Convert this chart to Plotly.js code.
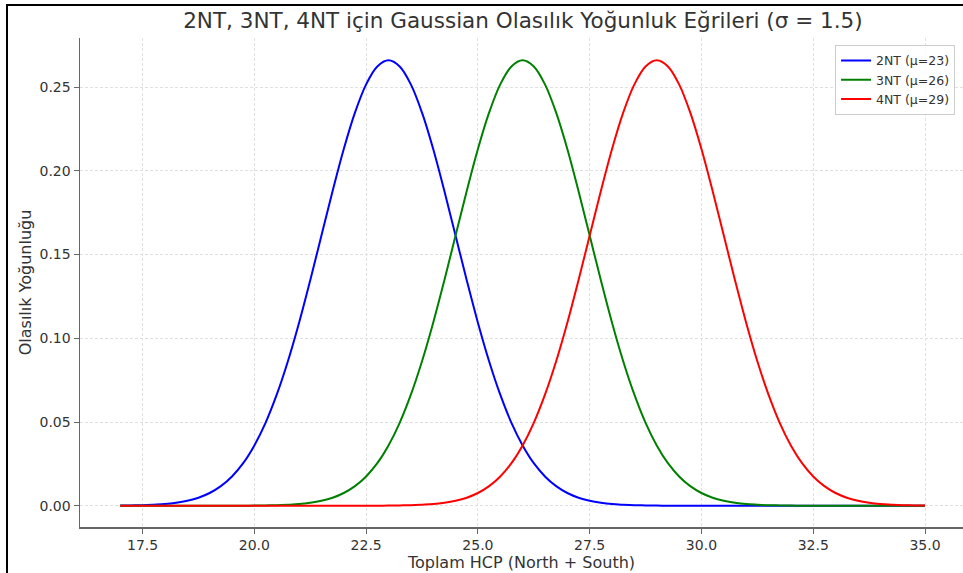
<!DOCTYPE html>
<html>
<head>
<meta charset="utf-8">
<script src="https://cdn.plot.ly/plotly-3.0.1.min.js"></script>
<style>
html,body{margin:0;padding:0;background:#fff;}
#wrap{position:relative;width:963px;height:573px;overflow:hidden;}
#chart{position:absolute;left:0;top:0;width:963px;height:573px;}
#frame{position:absolute;left:6px;top:4px;width:970px;height:580px;border-left:2px solid #000;border-top:2px solid #000;pointer-events:none;}
</style>
</head>
<body>
<div id="wrap"><div id="chart"></div><div id="frame"></div></div>
<script>
const hcp = [17,17.25,17.5,17.75,18,18.25,18.5,18.75,19,19.25,19.5,19.75,20,20.25,20.5,20.75,21,21.25,21.5,21.75,22,22.25,22.5,22.75,23,23.25,23.5,23.75,24,24.25,24.5,24.75,25,25.25,25.5,25.75,26,26.25,26.5,26.75,27,27.25,27.5,27.75,28,28.25,28.5,28.75,29,29.25,29.5,29.75,30,30.25,30.5,30.75,31,31.25,31.5,31.75,32,32.25,32.5,32.75,33,33.25,33.5,33.75,34,34.25,34.5,34.75,35];
const nt2 = [0.0001,0.0002,0.0003,0.0006,0.0010,0.0018,0.0030,0.0048,0.0076,0.0117,0.0175,0.0254,0.0360,0.0495,0.0663,0.0863,0.1093,0.1347,0.1613,0.1879,0.2130,0.2347,0.2516,0.2623,0.2660,0.2623,0.2516,0.2347,0.2130,0.1879,0.1613,0.1347,0.1093,0.0863,0.0663,0.0495,0.0360,0.0254,0.0175,0.0117,0.0076,0.0048,0.0030,0.0018,0.0010,0.0006,0.0003,0.0002,0.0001,0,0,0,0,0,0,0,0,0,0,0,0,0,0,0,0,0,0,0,0,0,0,0,0];
const nt3 = [0,0,0,0,0,0,0,0,0,0,0,0,0.0001,0.0002,0.0003,0.0006,0.0010,0.0018,0.0030,0.0048,0.0076,0.0117,0.0175,0.0254,0.0360,0.0495,0.0663,0.0863,0.1093,0.1347,0.1613,0.1879,0.2130,0.2347,0.2516,0.2623,0.2660,0.2623,0.2516,0.2347,0.2130,0.1879,0.1613,0.1347,0.1093,0.0863,0.0663,0.0495,0.0360,0.0254,0.0175,0.0117,0.0076,0.0048,0.0030,0.0018,0.0010,0.0006,0.0003,0.0002,0.0001,0,0,0,0,0,0,0,0,0,0,0,0];
const nt4 = [0,0,0,0,0,0,0,0,0,0,0,0,0,0,0,0,0,0,0,0,0,0,0,0,0.0001,0.0002,0.0003,0.0006,0.0010,0.0018,0.0030,0.0048,0.0076,0.0117,0.0175,0.0254,0.0360,0.0495,0.0663,0.0863,0.1093,0.1347,0.1613,0.1879,0.2130,0.2347,0.2516,0.2623,0.2660,0.2623,0.2516,0.2347,0.2130,0.1879,0.1613,0.1347,0.1093,0.0863,0.0663,0.0495,0.0360,0.0254,0.0175,0.0117,0.0076,0.0048,0.0030,0.0018,0.0010,0.0006,0.0003,0.0002,0.0001];
const names = ['2NT (μ=23)','3NT (μ=26)','4NT (μ=29)'];
const colors = ['#0000ff','#008000','#ff0000'];
const xTicks = [17.5,20,22.5,25,27.5,30,32.5,35];
const xTickText = ['17.5','20.0','22.5','25.0','27.5','30.0','32.5','35.0'];
const yTicks = [0,0.05,0.10,0.15,0.20,0.25];
const yTickText = ['0.00','0.05','0.10','0.15','0.20','0.25'];

const series = [nt2, nt3, nt4];
const traces = series.map((ys,i)=>({
  x: hcp, y: ys, type:'scatter', mode:'lines', name: names[i],
  line:{color:colors[i], width:2, shape:'spline', smoothing:1}
}));

const font = 'DejaVu Sans, sans-serif';
const layout = {
  width:963, height:573,
  margin:{l:80, r:0, t:38, b:46},
  paper_bgcolor:'#fff', plot_bgcolor:'#fff',
  font:{family:font, color:'#333', size:14},
  title:{text:'2NT, 3NT, 4NT için Gaussian Olasılık Yoğunluk Eğrileri (σ = 1.5)', font:{family:font, size:21.5, color:'#333'}, x:0.543, xanchor:'center', y:0.965, yanchor:'middle'},
  xaxis:{range:[16.1,35.85], tickvals:xTicks, ticktext:xTickText, showline:true, linecolor:'#666', linewidth:1.5,
    ticks:'outside', ticklen:5, tickcolor:'#666', showgrid:true, gridcolor:'#e0e0e0', griddash:'3px,2px', gridwidth:1, zeroline:false,
    tickfont:{size:14, color:'#333'}, title:{text:'Toplam HCP (North + South)', font:{size:16, color:'#333'}, standoff:3}},
  yaxis:{range:[-0.0127,0.2793], tickvals:yTicks, ticktext:yTickText, showline:true, linecolor:'#666', linewidth:1.5,
    ticks:'outside', ticklen:5, tickcolor:'#666', showgrid:true, gridcolor:'#e0e0e0', griddash:'3px,2px', gridwidth:1, zeroline:false,
    tickfont:{size:14, color:'#333'}, title:{text:'Olasılık Yoğunluğu', font:{size:16, color:'#333'}, standoff:4}},
  legend:{x:0.991, xanchor:'right', y:0.986, yanchor:'top', bgcolor:'rgba(255,255,255,0.9)', bordercolor:'#ccc', borderwidth:1,
    font:{size:12.5, color:'#333'}, tracegroupgap:0},
  showlegend:true
};
Plotly.newPlot('chart', traces, layout, {displayModeBar:false, staticPlot:true});
</script>
</body>
</html>
